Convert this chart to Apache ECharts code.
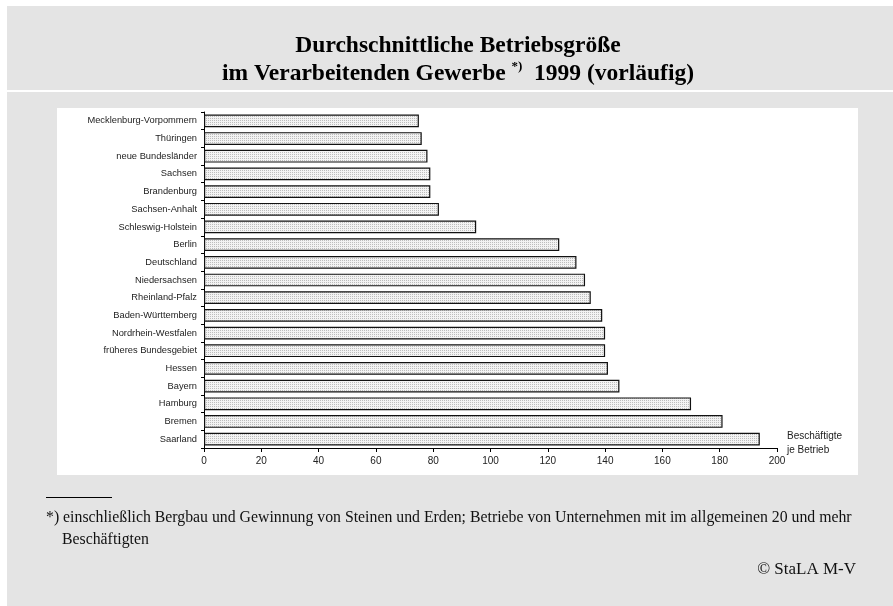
<!DOCTYPE html>
<html>
<head>
<meta charset="utf-8">
<script src="https://cdn.jsdelivr.net/npm/echarts@6/dist/echarts.min.js"></script>
<style>
  html, body { margin: 0; padding: 0; background: #ffffff; }
  #chart { width: 893px; height: 606px; }
</style>
</head>
<body>
<div id="chart"></div>
<script>
// Average number of employees per establishment, manufacturing 1999 (provisional)
const regions = [
  'Mecklenburg-Vorpommern', 'Thüringen', 'neue Bundesländer', 'Sachsen',
  'Brandenburg', 'Sachsen-Anhalt', 'Schleswig-Holstein', 'Berlin',
  'Deutschland', 'Niedersachsen', 'Rheinland-Pfalz', 'Baden-Württemberg',
  'Nordrhein-Westfalen', 'früheres Bundesgebiet', 'Hessen', 'Bayern',
  'Hamburg', 'Bremen', 'Saarland'
];
const employeesPerEstablishment = [
  75, 76, 78, 79,
  79, 82, 95, 124,
  130, 133, 135, 139,
  140, 140, 141, 145,
  170, 181, 194
];
const xTicks = { min: 0, max: 200, step: 20 };

const titleLine1 = 'Durchschnittliche Betriebsgröße';
const titleLine2a = 'im Verarbeitenden Gewerbe ';
const titleSup = '*)';
const titleLine2b = '  1999 (vorläufig)';
const unitLabel = ['Beschäftigte', 'je Betrieb'];
const footnote1 = '*) einschließlich Bergbau und Gewinnung von Steinen und Erden; Betriebe von Unternehmen mit im allgemeinen 20 und mehr';
const footnote2 = 'Beschäftigten';
const sourceNote = '© StaLA M-V';

// fine dotted fill for the bars
function dotPattern() {
  const c = document.createElement('canvas');
  c.width = 2; c.height = 2;
  const g = c.getContext('2d');
  g.fillStyle = '#f3f3f3';
  g.fillRect(0, 0, 2, 2);
  g.fillStyle = '#bdbdbd';
  g.fillRect(0, 0, 1, 1);
  return c;
}

const sans = '"Liberation Sans", Arial, sans-serif';
const serif = '"Liberation Serif", "Times New Roman", serif';

const chart = echarts.init(document.getElementById('chart'), null, { renderer: 'canvas' });

chart.setOption({
  backgroundColor: '#ffffff',
  animation: false,
  graphic: [
    { type: 'rect', z: -10, shape: { x: 7, y: 6, width: 886, height: 600 }, style: { fill: '#e4e4e4' } },
    { type: 'rect', z: -9, shape: { x: 7, y: 90, width: 886, height: 2 }, style: { fill: '#ffffff' } },
    { type: 'rect', z: -9, shape: { x: 57, y: 108, width: 801, height: 367 }, style: { fill: '#ffffff' } },
    {
      type: 'text', x: 458, y: 32, z: 5,
      style: {
        text: '{t|' + titleLine1 + '}\n{t|' + titleLine2a + '}{s|' + titleSup + '}{t|' + titleLine2b + '}',
        align: 'center',
        rich: {
          t: { fontFamily: serif, fontWeight: 'bold', fontSize: 23.5, lineHeight: 28, fill: '#000' },
          s: { fontFamily: serif, fontWeight: 'bold', fontSize: 13, lineHeight: 22, verticalAlign: 'top', fill: '#000' }
        }
      }
    },
    {
      type: 'text', x: 787, y: 429, z: 5,
      style: { text: unitLabel.join('\n'), font: '10px ' + sans, lineHeight: 14, fill: '#222' }
    },
    { type: 'rect', z: 5, shape: { x: 46, y: 497, width: 66, height: 1 }, style: { fill: '#000' } },
    {
      type: 'text', x: 46, y: 510, z: 5,
      style: { text: footnote1, font: '15.8px ' + serif, fill: '#111' }
    },
    {
      type: 'text', x: 62, y: 532, z: 5,
      style: { text: footnote2, font: '15.8px ' + serif, fill: '#111' }
    },
    {
      type: 'text', x: 856, y: 561, z: 5,
      style: { text: sourceNote, font: '17px ' + serif, fill: '#111', align: 'right' }
    }
  ],
  grid: { left: 204, top: 112, width: 573, height: 336, containLabel: false },
  xAxis: {
    type: 'value',
    min: xTicks.min, max: xTicks.max, interval: xTicks.step,
    axisLine: { show: true, lineStyle: { color: '#000', width: 1 } },
    axisTick: { show: true, length: 4, lineStyle: { color: '#000' } },
    axisLabel: { fontFamily: sans, fontSize: 10, color: '#222', margin: 8 },
    splitLine: { show: false }
  },
  yAxis: {
    type: 'category',
    data: regions,
    inverse: true,
    axisLine: { show: true, lineStyle: { color: '#000', width: 1 } },
    axisTick: { show: true, length: 3, lineStyle: { color: '#000' } },
    axisLabel: { fontFamily: sans, fontSize: 9.3, color: '#222', margin: 7 }
  },
  series: [{
    type: 'bar',
    data: employeesPerEstablishment,
    barCategoryGap: '28%',
    itemStyle: {
      color: { image: dotPattern(), repeat: 'repeat' },
      borderColor: '#111',
      borderWidth: 1.2
    }
  }]
});
</script>
</body>
</html>
